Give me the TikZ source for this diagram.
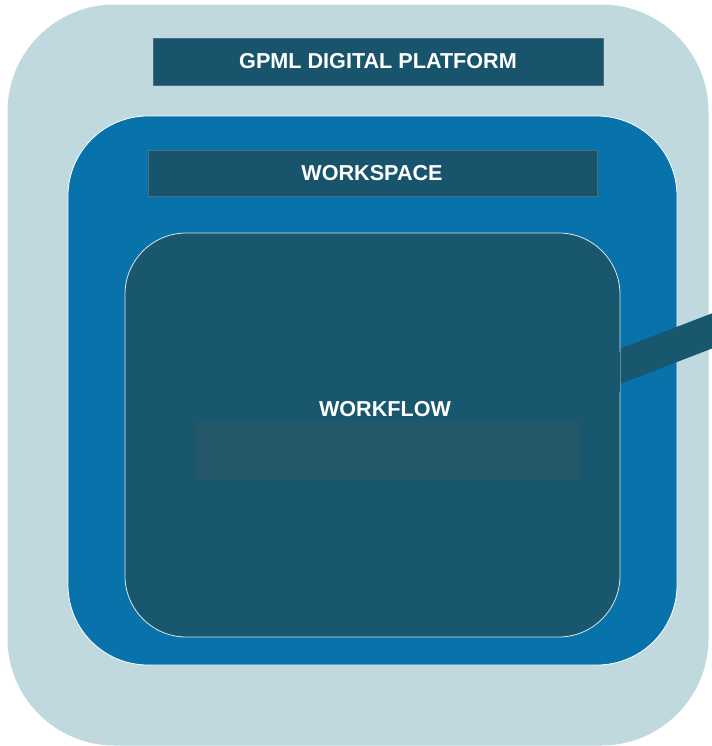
\documentclass[tikz,border=0pt]{standalone}
\usepackage{fontspec}
\setmainfont{Liberation Sans}

\definecolor{platformbg}{RGB}{191,217,222}
\definecolor{workspacebg}{RGB}{7,115,170}
\definecolor{workflowbg}{RGB}{24,87,110}
\definecolor{titlebg}{RGB}{24,84,108}
\definecolor{titleline}{RGB}{75,110,128}
\definecolor{panelbg}{RGB}{36,87,106}

\tikzset{every picture/.style={line width=0.75pt}}
\tikzset{
  titlebox/.style={fill=titlebg, draw=titleline, line width=0.6pt},
  titletext/.style={text=white, font=\bfseries\fontsize{16.2}{19}\selectfont, inner sep=0.75pt},
  band/.style={draw=workflowbg, line width=24.6pt}
}

\begin{document}
\begin{tikzpicture}[x=0.75pt,y=0.75pt,yscale=-1,xscale=1]
\useasboundingbox (0,0) rectangle (712,746);

%Shape: Rounded Rect [id:platform] 
\draw[fill=platformbg, draw=platformbg, rounded corners=80pt] (8,5) rectangle (708,745);
%Shape: Rectangle [id:platformtitle] 
\draw[titlebox] (153,38) rectangle (603,85);

%Shape: Rounded Rect [id:workspace] 
\draw[fill=workspacebg, draw=white, line width=0.6pt, rounded corners=60pt] (68,116) rectangle (677,665);
%Shape: Rectangle [id:workspacetitle] 
\draw[titlebox] (148,150) rectangle (597,196);

%Straight Lines [id:band] 
\coordinate (bandstart) at (600,374);
\coordinate (bandend) at (730,324);
\draw[band] (bandstart) -- (bandend);

%Shape: Rounded Rect [id:workflow] 
\draw[fill=workflowbg, draw=white!85!workflowbg, line width=0.6pt, rounded corners=46pt] (125,233) rectangle (620,637);
\fill[workflowbg] (600,352) rectangle (619.6,392);
%Shape: Rectangle [id:workflowpanel] 
\fill[panelbg] (195,422) rectangle (581,480);

% Text Node
\node[titletext] (platformlabel) at (378,61) {GPML DIGITAL PLATFORM};
% Text Node
\node[titletext] (workspacelabel) at (372,173) {WORKSPACE};
% Text Node
\node[titletext] (workflowlabel) at (385,409) {WORKFLOW};

\end{tikzpicture}
\end{document}
